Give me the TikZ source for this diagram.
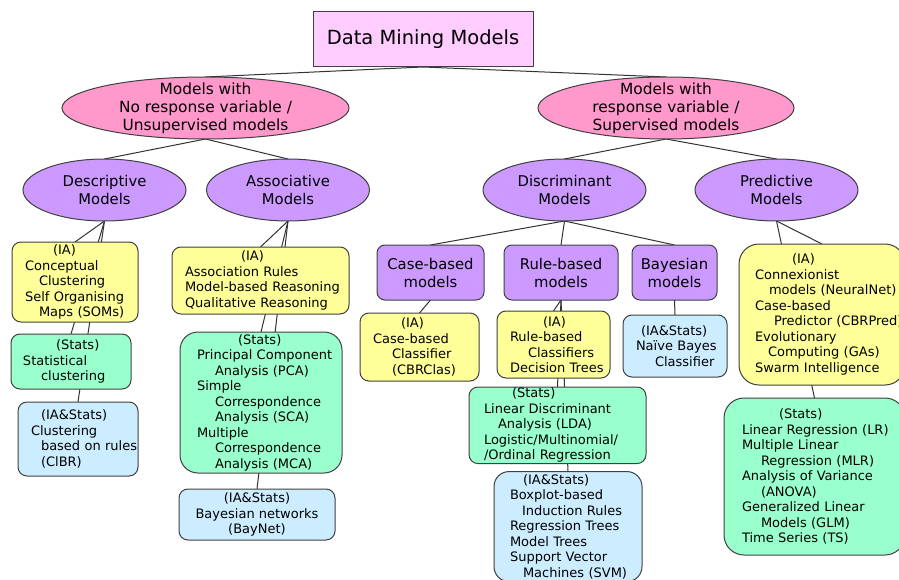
\documentclass[tikz,border=0pt]{standalone}
\usepackage{fontspec}
\setmainfont{DejaVu Sans}
\usepackage{tikz}
\usetikzlibrary{shapes.geometric,positioning,backgrounds}
\definecolor{titlepink}{RGB}{255,204,255}
\definecolor{rosepink}{RGB}{255,153,204}
\definecolor{lilac}{RGB}{204,153,255}
\definecolor{lemon}{RGB}{255,255,153}
\definecolor{mint}{RGB}{153,255,204}
\definecolor{skyblue}{RGB}{204,236,255}
\newcommand{\tabin}[1]{\hspace*{#1pt}}
% box lines are set by hand, never hyphenated
\hyphenpenalty=10000
\exhyphenpenalty=10000

\begin{document}
\begin{tikzpicture}[
    x=1pt, y=1pt,
    every node/.style={outer sep=0pt},
    rootbox/.style={rectangle, draw=black!75, fill=titlepink, line width=1pt,
                    minimum width=220pt, minimum height=55pt,
                    font=\fontsize{19.5}{24}\selectfont},
    groupell/.style={ellipse, draw=black!75, fill=rosepink, line width=1pt,
                     minimum height=62pt, inner ysep=-4pt, align=center,
                     font=\fontsize{15.4}{18}\selectfont},
    familyell/.style={ellipse, draw=black!75, fill=lilac, line width=1pt,
                      minimum width=163pt, minimum height=62pt, align=center,
                      font=\fontsize{14.8}{18}\selectfont},
    kindbox/.style={rectangle, rounded corners=8pt, draw=black!75, fill=lilac,
                    line width=1pt, minimum height=55pt, align=center,
                    font=\fontsize{14.8}{18}\selectfont},
    leafbox/.style={rectangle, rounded corners=9pt, draw=black!75, line width=1pt,
                    inner xsep=13pt, inner ysep=1pt, align=left,
                    font=\fontsize{13}{15.5}\selectfont},
    iabox/.style={leafbox, fill=lemon},
    statsbox/.style={leafbox, fill=mint},
    bothbox/.style={leafbox, fill=skyblue},
    edgeline/.style={draw=black!80, line width=1pt}
]
\useasboundingbox (0,0) rectangle (899,-580);
\clip (0,0) rectangle (899,-580);

% Root and the two big groups
\node[rootbox] (root) at (423,-39.5) {Data Mining Models};
\node[groupell, minimum width=287pt] (unsup) at (205.5,-108)
    {Models with\\No response variable /\\Unsupervised models};
\node[groupell, minimum width=256pt] (sup) at (666,-108)
    {Models with\\response variable /\\Supervised models};

% Model families
\node[familyell] (desc)  at (104.5,-190) {Descriptive\\Models};
\node[familyell] (assoc) at (288,-190)   {Associative\\Models};
\node[familyell] (discr) at (564.5,-190) {Discriminant\\Models};
\node[familyell] (pred)  at (776.5,-190) {Predictive\\Models};

% Descriptive column
\node[iabox, text width=100pt, minimum height=80pt, below=21pt of desc, xshift=-29.5pt] (descIA)
    {\tabin{28}(IA)\\Conceptual\\\tabin{14}Clustering\\Self~Organising\\\tabin{14}Maps~(SOMs)};
\node[statsbox, text width=96pt, inner xsep=12pt, minimum height=55pt, below=12pt of descIA, xshift=-4pt] (descStats)
    {\tabin{33}(Stats)\\Statistical\\\tabin{18}clustering};
\node[bothbox, text width=94pt, minimum height=74pt, below=13pt of descStats, xshift=7pt] (descBoth)
    {\tabin{10}(IA\&Stats)\\Clustering\\\tabin{10}based~on~rules\\\tabin{10}(ClBR)};

% Associative column
\node[iabox, text width=151pt, minimum height=67pt, below=26pt of assoc, xshift=-27.5pt] (assocIA)
    {\tabin{56}(IA)\\Association~Rules\\Model-based~Reasoning\\Qualitative~Reasoning};
\node[statsbox, text width=128pt, inner xsep=17pt, minimum height=141pt, rounded corners=18pt,
      below=18pt of assocIA, xshift=0.5pt] (assocStats)
    {\tabin{41}(Stats)\\Principal~Component\\\tabin{18}Analysis~(PCA)\\Simple\\\tabin{18}Correspondence\\
     \tabin{18}Analysis~(SCA)\\Multiple\\\tabin{18}Correspondence\\\tabin{18}Analysis~(MCA)};
\node[bothbox, align=center, minimum width=156pt, minimum height=51pt, below=16pt of assocStats, xshift=-4pt] (assocBoth)
    {(IA\&Stats)\\Bayesian networks\\(BayNet)};

% Discriminant column
\node[kindbox, minimum width=107pt, below=24pt of discr, xshift=-134pt] (caseM) {Case-based\\models};
\node[kindbox, minimum width=114pt, right=20pt of caseM] (ruleM)  {Rule-based\\models};
\node[kindbox, minimum width=85pt,  right=14pt of ruleM] (bayesM) {Bayesian\\models};

\node[iabox, text width=93pt, minimum height=68pt, below=13pt of caseM, xshift=-11pt] (caseIA)
    {\tabin{28}(IA)\\Case-based\\\tabin{19}Classifier\\\tabin{19}(CBRClas)};
\node[iabox, text width=87pt, minimum height=67pt, below=11pt of ruleM, xshift=-7.5pt] (ruleIA)
    {\tabin{33}(IA)\\Rule-based\\\tabin{18}Classifiers\\Decision~Trees};
\node[statsbox, text width=147pt, inner xsep=15pt, minimum height=76pt, below=9pt of ruleIA, xshift=4pt] (ruleStats)
    {\tabin{28}(Stats)\\Linear~Discriminant\\\tabin{14}Analysis~(LDA)\\Logistic/Multinomial/\\/Ordinal~Regression};
\node[bothbox, text width=116pt, inner xsep=16pt, minimum height=110pt, rounded corners=15pt,
      below=8pt of ruleStats, xshift=10.5pt] (ruleBoth)
    {\tabin{13}(IA\&Stats)\\Boxplot-based\\\tabin{12}Induction~Rules\\Regression~Trees\\Model~Trees\\
     Support~Vector\\\tabin{13}Machines~(SVM)};
\node[bothbox, text width=78pt, minimum height=62pt, below=15pt of bayesM, xshift=0.5pt] (bayesBoth)
    {\tabin{5}(IA\&Stats)\\Naïve~Bayes\\\tabin{19}Classifier};

% Predictive column
\node[iabox, text width=134pt, inner xsep=16pt, minimum height=141pt, rounded corners=20pt,
      below=23pt of pred, xshift=45.5pt] (predIA)
    {\tabin{37}(IA)\\Connexionist\\\tabin{14}models~(NeuralNet)\\Case-based\\\tabin{19}Predictor~(CBRPred)\\
     Evolutionary\\\tabin{13}Computing~(GAs)\\Swarm~Intelligence};
\node[statsbox, text width=145pt, inner xsep=18pt, minimum height=157pt, rounded corners=20pt,
      below=13pt of predIA, xshift=-7.5pt] (predStats)
    {\tabin{37}(Stats)\\Linear~Regression~(LR)\\Multiple~Linear\\\tabin{19}Regression~(MLR)\\
     Analysis~of~Variance\\\tabin{19}(ANOVA)\\Generalized~Linear\\\tabin{19}Models~(GLM)\\Time~Series~(TS)};

% Tree edges, kept behind the boxes
\begin{scope}[on background layer]
\fill[white] (0,0) rectangle (899,-580);
\draw[edgeline] (root.south)  -- (unsup.north);
\draw[edgeline] (root.south)  -- (sup.north);
\draw[edgeline] (unsup.south) -- (desc.north);
\draw[edgeline] (unsup.south) -- (assoc.north);
\draw[edgeline] (sup.south)   -- (discr.north);
\draw[edgeline] (sup.south)   -- (pred.north);

\draw[edgeline] (desc.south)  -- (descIA.north);
\draw[edgeline] (desc.south)  -- (descStats.north);
\draw[edgeline] (desc.south)  -- (descBoth.north);
\draw[edgeline] (assoc.south) -- (assocIA.north);
\draw[edgeline] (assoc.south) -- (assocStats.north);
\draw[edgeline] (assoc.south) -- (assocBoth.north);

\draw[edgeline] (discr.south) -- (caseM.north);
\draw[edgeline] (discr.south) -- (ruleM.north);
\draw[edgeline] (discr.south) -- (bayesM.north);
\draw[edgeline] (caseM.south) -- (caseIA.north);
\draw[edgeline] (ruleM.south) -- (ruleIA.north);
\draw[edgeline] (ruleM.south) -- (ruleStats.north);
\draw[edgeline] (ruleM.south) -- (ruleBoth.north);
\draw[edgeline] (bayesM.south) -- (bayesBoth.north);

\draw[edgeline] (pred.south)  -- (predIA.north);
\draw[edgeline] (pred.south)  -- (predStats.north);
\end{scope}
\end{tikzpicture}
\end{document}
